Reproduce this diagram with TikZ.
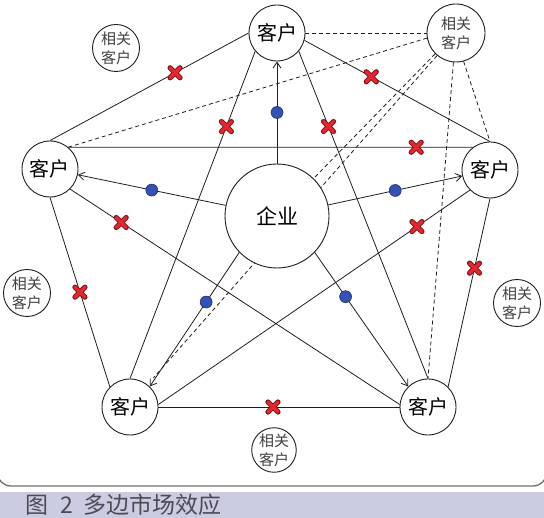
\documentclass[tikz,border=0pt]{standalone}
\usepackage{fontspec}
\newfontfamily\cjk{Noto Sans CJK SC}
\usetikzlibrary{arrows.meta,backgrounds}
\definecolor{ink}{RGB}{30,30,30}
\definecolor{dotblue}{RGB}{52,82,180}
\definecolor{dotrim}{RGB}{25,35,100}
\definecolor{xred}{RGB}{228,38,48}
\definecolor{xrim}{RGB}{125,20,25}
\definecolor{band}{RGB}{203,203,226}
\definecolor{rim}{RGB}{110,110,110}
\definecolor{captext}{RGB}{75,75,85}
\tikzset{
  >={Straight Barb[length=6pt,width=8pt]},
  cust/.style={circle,draw=ink,fill=white,line width=0.9pt,minimum size=56pt,inner sep=0pt,
    font=\cjk\fontsize{20}{24}\selectfont},
  rel/.style={circle,draw=ink,fill=white,line width=0.9pt,minimum size=#1,inner sep=0pt,
    align=center,text=ink!85,font=\cjk\fontsize{15}{19}\selectfont},
  rel/.default=47pt,
  firm/.style={circle,draw=ink,fill=white,line width=0.9pt,minimum size=104pt,inner sep=0pt,
    font=\cjk\fontsize{21}{24}\selectfont},
  link/.style={draw=ink,line width=0.8pt},
  hint/.style={draw=ink,line width=0.8pt,dash pattern=on 4pt off 3pt},
  give/.style={->,draw=ink,line width=0.8pt},
  bluedot/.style={circle,fill=dotblue,draw=dotrim,line width=0.5pt,inner sep=0pt,minimum size=12pt},
  % red cross on a link
  pics/xmark/.style={code={
    \draw[xrim,line width=5.2pt,line cap=round] (-5,-5) -- (5,5) (-5,5) -- (5,-5);
    \draw[xred,line width=3.4pt,line cap=round] (-5,-5) -- (5,5) (-5,5) -- (5,-5);
  }},
}

\begin{document}
\begin{tikzpicture}[x=1pt,y=-1pt]
  \useasboundingbox (0,0) rectangle (544,518);
  \begin{scope}
    \clip (0,0) rectangle (544,518);
    \draw[rim,line width=1.3pt,rounded corners=14pt] (-3,-30) rectangle (547,486);
  \end{scope}
  \fill[band] (0,492) rectangle (544,518);
  \node[anchor=west,text=captext,inner sep=0pt,font=\cjk\fontsize{23}{24}\selectfont] (cap) at (25,505)
    {图\hspace{12pt}2\hspace{11pt}多边市场效应};

  % customers and the firm
  \node[firm] (firm) at (277,216) {企业};
  \node[cust] (cT) at (277,33) {客户};
  \node[cust] (cL) at (50,169) {客户};
  \node[cust] (cR) at (490,170) {客户};
  \node[cust] (cBL) at (130,407) {客户};
  \node[cust] (cBR) at (428,407) {客户};
  % related customers
  \node[rel] (rTL) at (116,48) {相关\\客户};
  \node[rel=58pt] (rTR) at (456,33) {相关\\客户};
  \node[rel] (rL) at (27,293) {相关\\客户};
  \node[rel] (rR) at (517,303) {相关\\客户};
  \node[rel=43pt] (rB) at (274,450) {相关\\客户};

  % customer to customer
  \draw[link] (cL.90) -- pic[pos=0.63]{xmark} (cT.180);
  \draw[link] (cT.345) -- pic[pos=0.36]{xmark} (cR.90);
  \draw[link] (cT.220) -- pic[pos=0.23]{xmark} (cBL.90);
  \draw[link] (cT.320) -- pic[pos=0.23]{xmark} (cBR.90);
  \draw[link] (cL.50) -- pic[pos=0.86]{xmark} (cR.127);
  \draw[link] (cL.315) -- pic[pos=0.155]{xmark} (cBR.175);
  \draw[link] (cR.225) -- pic[pos=0.17]{xmark} (cBL.5);
  \draw[link] (cL.270) -- pic[pos=0.5]{xmark} (cBL.135);
  \draw[link] (cR.270) -- pic[pos=0.37]{xmark} (cBR.45);
  \draw[link] (cBL.0) -- pic[pos=0.475]{xmark} (cBR.180);

  % firm to customers
  \draw[give] (firm) -- node[bluedot]{} (cT);
  \draw[give] (firm) -- node[bluedot]{} (cL);
  \draw[give] (firm) -- node[bluedot]{} (cR);
  \draw[give] (firm.224) -- node[bluedot,pos=0.37]{} (cBL.46);
  \draw[give] (firm.316) -- node[bluedot,pos=0.33]{} (cBR.134);

  % related customer links
  \draw[hint] (cT.0) -- (rTR.180);
  \draw[hint] (cL.50) -- (rTR.190);
  \draw[hint] (rTR.285) -- (cR.90);
  \draw[hint] (rTR.265) -- (cBR.90);
  \draw[hint] (rTR.225) -- (firm);
  \begin{pgfonlayer}{background}
    \draw[hint,shorten >=9pt] (rTR.230) -- (cBL.52);
  \end{pgfonlayer}
\end{tikzpicture}
\end{document}
